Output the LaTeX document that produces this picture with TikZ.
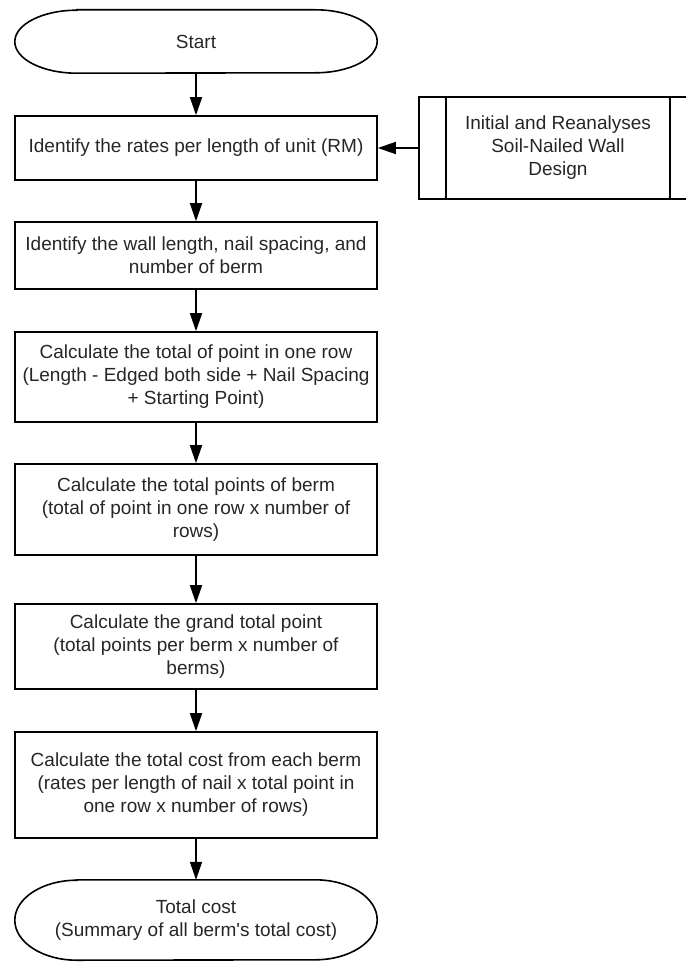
\documentclass[tikz,border=0pt]{standalone}
\usepackage{fontspec}
\setmainfont{Liberation Sans}[Ligatures=TeXOff]
\usetikzlibrary{arrows.meta,calc}
\begin{document}
\begin{tikzpicture}[x=1pt,y=-1pt,
  every node/.style={font=\fontsize{19}{23}\selectfont, align=center, inner sep=0pt, text=black!85},
  proc/.style={draw, line width=1.6pt, minimum width=362pt},
  term/.style={minimum width=362pt},
  flow/.style={-{Triangle[length=18pt,width=12pt]}, line width=1.6pt},
  outline/.style={line width=1.6pt}]
\clip (0,0) rectangle (686,963);

\node[term, minimum height=63pt] (start) at (196,41.5) {Start};
\node[proc, minimum height=64pt] (b1) at (196,148) {Identify the rates per length of unit (RM)};
\node[proc, minimum height=67pt] (b2) at (196,255.5) {Identify the wall length, nail spacing, and\\number of berm};
\node[proc, minimum height=90pt] (b3) at (196,377) {Calculate the total of point in one row\\(Length - Edged both side + Nail Spacing\\+ Starting Point)};
\node[proc, minimum height=91pt] (b4) at (196,509.5) {Calculate the total points of berm\\(total of point in one row x number of\\rows)};
\node[proc, minimum height=85pt] (b5) at (196,646.5) {Calculate the grand total point\\(total points per berm x number of\\berms)};
\node[proc, minimum height=106pt] (b6) at (196,785) {Calculate the total cost from each berm\\(rates per length of nail x total point in\\one row x number of rows)};
\node[term, minimum height=80pt] (finish) at (196,920) {Total cost\\(Summary of all berm's total cost)};
\node[draw, line width=1.6pt, minimum width=278pt, minimum height=102pt] (pp) at (558,148) {Initial and Reanalyses\\Soil-Nailed Wall\\Design};

\draw[outline] ($(start.north west)+(62,0)$) -- ($(start.north east)+(-62,0)$)
  arc[start angle=-90,end angle=90,x radius=62,y radius=31.5]
  -- ($(start.south west)+(62,0)$)
  arc[start angle=90,end angle=270,x radius=62,y radius=31.5] -- cycle;
\draw[outline] ($(finish.north west)+(62,0)$) -- ($(finish.north east)+(-62,0)$)
  arc[start angle=-90,end angle=90,x radius=62,y radius=40]
  -- ($(finish.south west)+(62,0)$)
  arc[start angle=90,end angle=270,x radius=62,y radius=40] -- cycle;

\draw[outline] ($(pp.north west)+(28,0)$) -- ($(pp.south west)+(28,0)$);
\draw[outline] ($(pp.north east)+(-28,0)$) -- ($(pp.south east)+(-28,0)$);

\draw[flow] (start.south) -- (b1.north);
\draw[flow] (b1.south) -- (b2.north);
\draw[flow] (b2.south) -- (b3.north);
\draw[flow] (b3.south) -- (b4.north);
\draw[flow] (b4.south) -- (b5.north);
\draw[flow] (b5.south) -- (b6.north);
\draw[flow] (b6.south) -- (finish.north);
\draw[flow] (pp.west) -- (b1.east);
\end{tikzpicture}
\end{document}
